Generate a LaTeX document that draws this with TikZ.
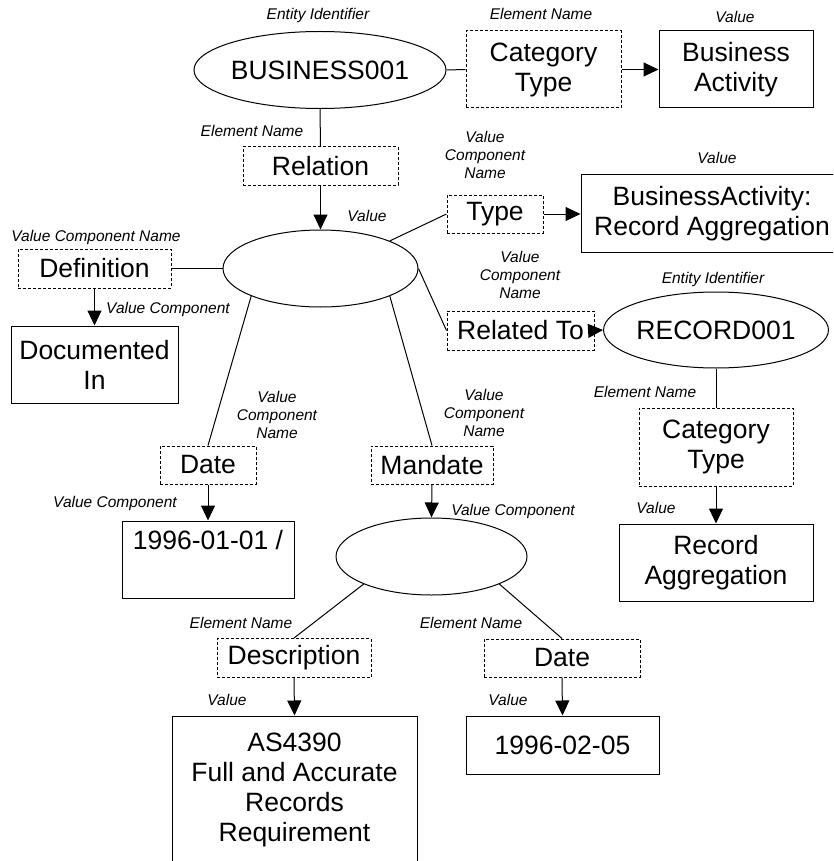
\documentclass[tikz,border=0pt]{standalone}
\usepackage{fontspec}
\setmainfont{Liberation Sans}
\usetikzlibrary{arrows.meta,shapes.geometric}
\tikzset{
  x=1pt, y=-1pt,
  base/.style={inner sep=0pt, align=center, font=\fontsize{26.5}{30}\selectfont, line width=1pt},
  ent/.style={base, draw, ellipse},
  ename/.style={base, draw, rectangle, dash pattern=on 3pt off 2pt},
  valbox/.style={base, draw, rectangle},
  lbl/.style={inner sep=0pt, align=center, font=\fontsize{15.5}{18}\selectfont\itshape},
  conn/.style={line width=1pt},
  arr/.style={line width=1pt, -{Triangle[length=15pt,width=14pt]}},
}
\begin{document}
\begin{tikzpicture}
\useasboundingbox (0,0) rectangle (833,861);
\clip (0,0) rectangle (833,861);
% top row
\node[ent, minimum width=210pt, minimum height=77pt] (b1) at (320,70) {BUSINESS001};
\node[ename, minimum width=155pt, minimum height=77pt] (ct1) at (543.5,69.5) {Category\\Type};
\node[valbox, minimum width=154pt, minimum height=77pt] (ba) at (736,69.5) {Business\\Activity};
\node[ename, minimum width=155pt, minimum height=38pt] (rel) at (320.5,166) {Relation};
% central value
\node[ent, minimum width=195pt, minimum height=77pt] (ce) at (320.5,268.5) {};
\node[ename, minimum width=153pt, minimum height=39pt] (def) at (94.5,268.5) {Definition};
\node[valbox, minimum width=167pt, minimum height=77pt] (doc) at (94.5,364.5) {Documented\\In};
\node[ename, minimum width=96pt, minimum height=38pt] (typ) at (495,214) {Type};
\node[valbox, minimum width=262pt, minimum height=77pt] (bara) at (712,213.5) {BusinessActivity:\\Record Aggregation};
\node[ename, minimum width=147pt, minimum height=39pt] (rt) at (520.5,330.5) {Related To};
\node[ent, minimum width=184pt, minimum height=76pt] (r1) at (716,330) {RECORD001};
\node[ename, minimum width=154pt, minimum height=78pt] (ct2) at (716,447) {Category\\Type};
\node[valbox, minimum width=194pt, minimum height=77pt] (ra) at (716,562.5) {Record\\Aggregation};
\node[ename, minimum width=96pt, minimum height=38pt] (dt1) at (208,465) {Date};
\node[valbox, minimum width=172pt, minimum height=77pt] (d1) at (208,559.5) {1996-01-01 /\\\strut};
\node[ename, minimum width=122pt, minimum height=38pt] (man) at (432,465) {Mandate};
\node[ent, minimum width=191pt, minimum height=77pt] (me) at (431.5,556.5) {};
\node[ename, minimum width=154pt, minimum height=39pt] (desc) at (294,658) {Description};
\node[ename, minimum width=156pt, minimum height=38pt] (dt2) at (562,658) {Date};
\node[valbox, minimum width=245pt, minimum height=148pt] (as) at (294.5,790) {AS4390\\Full and Accurate\\Records\\Requirement};
\node[valbox, minimum width=193pt, minimum height=58pt] (d2) at (562.5,745) {1996-02-05};
% labels
\node[lbl] (l1) at (318,15) {Entity Identifier};
\node[lbl] (l2) at (541,14) {Element Name};
\node[lbl] (l3) at (735,17) {Value};
\node[lbl] (l4) at (252,131) {Element Name};
\node[lbl] (l5) at (367,216) {Value};
\node[lbl] (l6) at (485,155) {Value\\Component\\Name};
\node[lbl] (l7) at (717,158) {Value};
\node[lbl] (l8) at (96,237) {Value Component Name};
\node[lbl] (l9) at (168,309) {Value Component};
\node[lbl] (l10) at (520,275) {Value\\Component\\Name};
\node[lbl] (l11) at (713,279) {Entity Identifier};
\node[lbl] (l12) at (645,392) {Element Name};
\node[lbl] (l13) at (656,508) {Value};
\node[lbl] (l14) at (277,415) {Value\\Component\\Name};
\node[lbl] (l15) at (484,413) {Value\\Component\\Name};
\node[lbl] (l16) at (115,503) {Value Component};
\node[lbl] (l17) at (513,511) {Value Component};
\node[lbl] (l18) at (241,623) {Element Name};
\node[lbl] (l19) at (471,623) {Element Name};
\node[lbl] (l20) at (227,700) {Value};
\node[lbl] (l21) at (508,700) {Value};
% connectors
\draw[conn] (b1.east) -- (ct1.west);
\draw[arr] (ct1.east) -- (ba.west);
\draw[conn] (b1.south) -- (rel.north);
\draw[arr] (rel.south) -- (ce.north);
\draw[conn] (def.east) -- (ce.west);
\draw[arr] (def.south) -- (doc.north);
\draw[conn] (ce.north east) -- (typ.west);
\draw[arr] (typ.east) -- (typ.east -| bara.west);
\draw[conn] (ce.east) -- (rt.west);
\draw[arr] (rt.east) -- (r1.west);
\draw[conn] (r1.south) -- (ct2.north);
\draw[arr] (ct2.south) -- (ra.north);
\draw[conn] (ce.south west) -- (dt1.north);
\draw[conn] (ce.south east) -- (man.north);
\draw[arr] (dt1.south) -- (d1.north);
\draw[arr] (man.south) -- (me.north);
\draw[conn] (me.south west) -- (desc.north);
\draw[conn] (me.south east) -- (dt2.north);
\draw[arr] (desc.south) -- (as.north);
\draw[arr] (dt2.south) -- (d2.north);
\end{tikzpicture}
\end{document}
